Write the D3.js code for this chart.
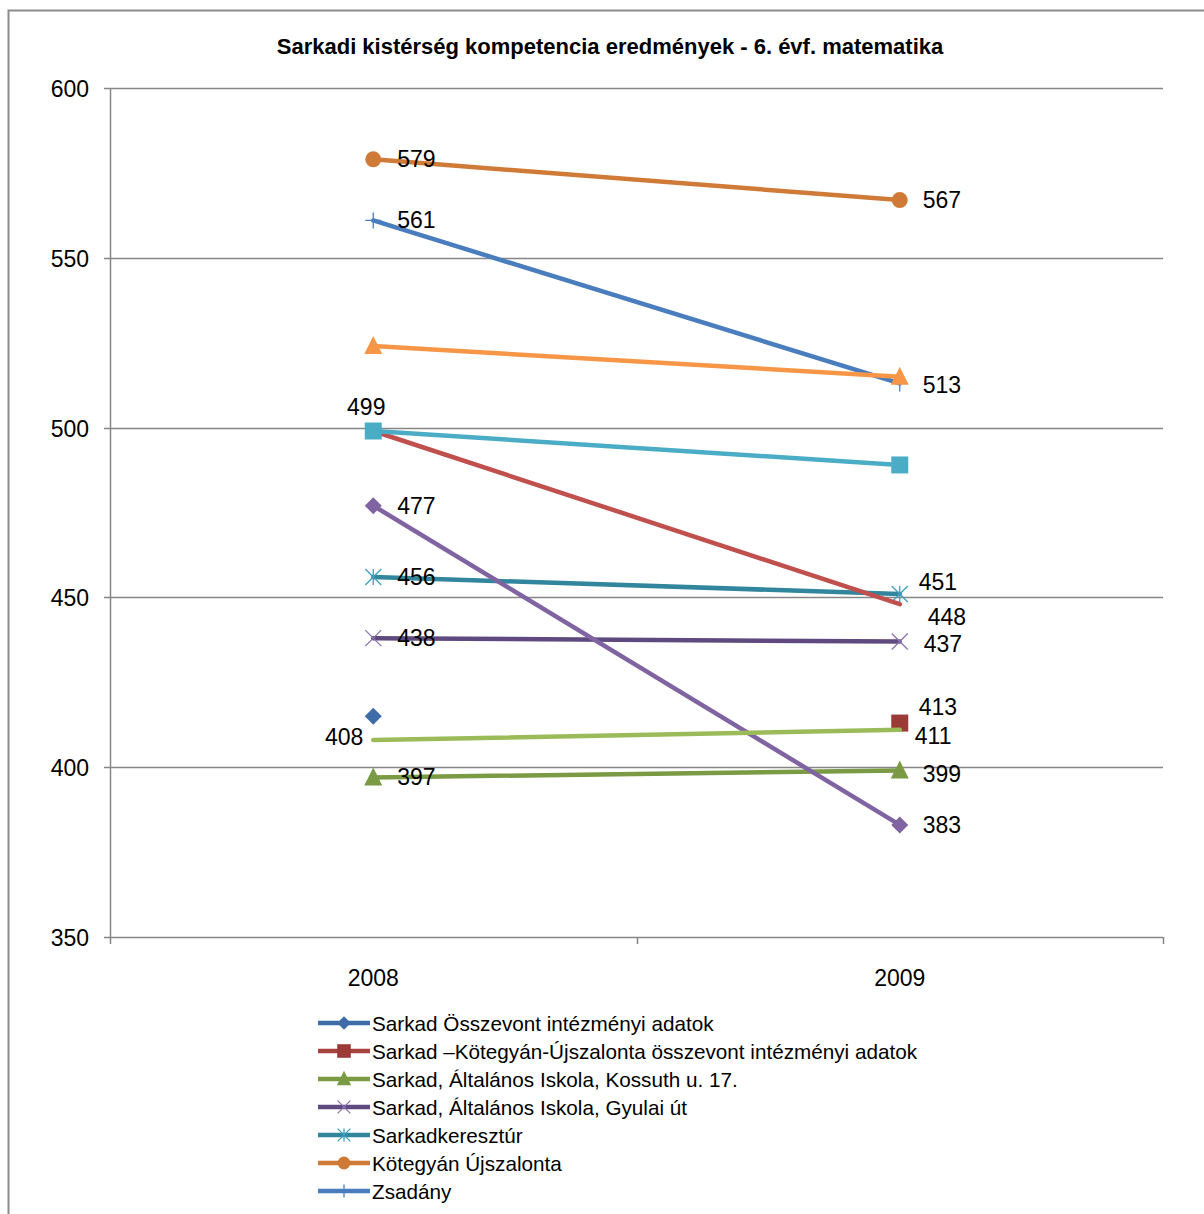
<!DOCTYPE html>
<html>
<head>
<meta charset="utf-8">
<script src="https://cdn.jsdelivr.net/npm/d3@7"></script>
<style>
  body { margin: 0; background: #fff; }
  svg { display: block; font-family: "Liberation Sans", Arial, sans-serif; }
  .tick-label { font-size: 23px; fill: #000; }
  .data-label { font-size: 23px; fill: #000; }
  .legend-text { font-size: 20.7px; fill: #000; }
</style>
</head>
<body>
<svg id="chart" width="1204" height="1214"></svg>
<script>
/* ── data ─────────────────────────────────────────────────────────────── */

const TITLE = "Sarkadi kistérség kompetencia eredmények - 6. évf. matematika";
const years = ["2008", "2009"];
const yTicks = [350, 400, 450, 500, 550, 600];

// legend shows only the first seven series (the rest is cut off)
const seriesNames = [
  "Sarkad Összevont intézményi adatok",
  "Sarkad –Kötegyán-Újszalonta összevont intézményi adatok",
  "Sarkad, Általános Iskola, Kossuth u. 17.",
  "Sarkad, Általános Iskola, Gyulai út",
  "Sarkadkeresztúr",
  "Kötegyán Újszalonta",
  "Zsadány",
];

const valuesOsszevont = [415, null];
const valuesSkuOsszevont = [null, 413];
const valuesKossuth = [397, 399];
const valuesGyulai = [438, 437];
const valuesKeresztur = [456, 451];
const valuesKotegyan = [579, 567];
const valuesZsadany = [561, 513];
const valuesRed = [499, 448];
const valuesPurple = [477, 383];
const valuesAqua = [499, 489];
const valuesOrange = [524, 515];
const valuesLightGreen = [408, 411];

/* ── series styling ───────────────────────────────────────────────────── */

// labels: [yearIndex, dx, dy, anchor]
const series = [
  { values: valuesOsszevont, color: "#3F6CA6", mcolor: "#3F6CA6", marker: "diamond", labels: [] },
  { values: valuesSkuOsszevont, color: "#A8423F", mcolor: "#9B3B38", marker: "square",
    labels: [[1, 19, -16, "start"]] },
  { values: valuesKossuth, color: "#7A9A43", mcolor: "#7A9A43", marker: "triangle",
    labels: [[0, 24, 0, "start"], [1, 23, 3, "start"]] },
  { values: valuesGyulai, color: "#5F4A80", mcolor: "#8A72B0", marker: "x",
    labels: [[0, 24, 0, "start"], [1, 24, 2, "start"]] },
  { values: valuesKeresztur, color: "#31869E", mcolor: "#3AA0BC", marker: "star",
    labels: [[0, 24, 0, "start"], [1, 19, -12, "start"]] },
  { values: valuesKotegyan, color: "#D07A37", mcolor: "#D07A37", marker: "circle",
    labels: [[0, 24, 0, "start"], [1, 23, 0, "start"]] },
  { values: valuesZsadany, color: "#4A7DBD", mcolor: "#4A7DBD", marker: "plus",
    labels: [[0, 24, 0, "start"], [1, 23, 2, "start"]] },
  { values: valuesRed, color: "#C0504D", mcolor: null, marker: null,
    labels: [[1, 28, 13, "start"]] },
  { values: valuesPurple, color: "#8064A2", mcolor: "#8064A2", marker: "diamond",
    labels: [[0, 24, 0, "start"], [1, 23, 0, "start"]] },
  { values: valuesAqua, color: "#4BACC6", mcolor: "#4BACC6", marker: "square",
    labels: [[0, -7, -24, "middle"]] },
  { values: valuesOrange, color: "#F79646", mcolor: "#F79646", marker: "triangle", labels: [] },
  { values: valuesLightGreen, color: "#9BBB59", mcolor: null, marker: null,
    labels: [[0, -10, -3, "end"], [1, 15, 6, "start"]] },
];

/* ── layout ───────────────────────────────────────────────────────────── */

const svg = d3.select("#chart");
const plot = { left: 110, right: 1163, top: 88, bottom: 937 };

const x = d3.scalePoint().domain(years).range([plot.left, plot.right]).padding(0.5);
const y = d3.scaleLinear().domain([350, 600]).range([plot.bottom, plot.top]);

// outer chart border (left + top visible)
svg.append("path")
  .attr("d", "M8.5,1214 L8.5,10.5 L1204,10.5")
  .attr("fill", "none")
  .attr("stroke", "#8c8c8c")
  .attr("stroke-width", 2);

svg.append("text")
  .attr("x", 610)
  .attr("y", 54)
  .attr("text-anchor", "middle")
  .attr("font-weight", "bold")
  .attr("font-size", "22px")
  .text(TITLE);

// gridlines + y ticks
const gridG = svg.append("g");
yTicks.forEach((t) => {
  const yy = Math.round(y(t)) + 0.5;
  gridG.append("line")
    .attr("x1", plot.left - 6).attr("x2", plot.right)
    .attr("y1", yy).attr("y2", yy)
    .attr("stroke", "#868686").attr("stroke-width", 1.5);
  gridG.append("text")
    .attr("class", "tick-label")
    .attr("x", 89)
    .attr("y", yy)
    .attr("text-anchor", "end")
    .attr("dominant-baseline", "central")
    .text(t);
});

// y axis line
svg.append("line")
  .attr("x1", plot.left + 0.5).attr("x2", plot.left + 0.5)
  .attr("y1", plot.top).attr("y2", plot.bottom)
  .attr("stroke", "#868686").attr("stroke-width", 1.5);

// x axis tick marks at band boundaries
const step = x.step();
[0, 1, 2].forEach((i) => {
  const xx = Math.round(plot.left + i * step) + 0.5;
  svg.append("line")
    .attr("x1", xx).attr("x2", xx)
    .attr("y1", plot.bottom).attr("y2", plot.bottom + 7)
    .attr("stroke", "#868686").attr("stroke-width", 1.5);
});

years.forEach((yr) => {
  svg.append("text")
    .attr("class", "tick-label")
    .attr("x", x(yr))
    .attr("y", 978)
    .attr("text-anchor", "middle")
    .attr("dominant-baseline", "central")
    .text(yr);
});

/* ── markers ──────────────────────────────────────────────────────────── */

function drawMarker(g, kind, cx, cy, color, scale = 1) {
  const s = scale;
  if (kind === "diamond") {
    const r = 8.5 * s;
    g.append("path")
      .attr("d", `M${cx},${cy - r} L${cx + r},${cy} L${cx},${cy + r} L${cx - r},${cy}Z`)
      .attr("fill", color);
  } else if (kind === "square") {
    const w = 17 * s;
    g.append("rect").attr("x", cx - w / 2).attr("y", cy - w / 2)
      .attr("width", w).attr("height", w).attr("fill", color);
  } else if (kind === "triangle") {
    const w = 18 * s;
    g.append("path")
      .attr("d", `M${cx},${cy - w / 2 - 1} L${cx + w / 2},${cy + w / 2 - 1} L${cx - w / 2},${cy + w / 2 - 1}Z`)
      .attr("fill", color);
  } else if (kind === "circle") {
    g.append("circle").attr("cx", cx).attr("cy", cy).attr("r", 8 * s).attr("fill", color);
  } else {
    const r = 8 * s;
    let d = "";
    if (kind === "x" || kind === "star")
      d += `M${cx - r},${cy - r}L${cx + r},${cy + r}M${cx - r},${cy + r}L${cx + r},${cy - r}`;
    if (kind === "star" || kind === "plus") d += `M${cx},${cy - r}L${cx},${cy + r}`;
    if (kind === "plus") d += `M${cx - r},${cy}L${cx + r},${cy}`;
    g.append("path").attr("d", d).attr("fill", "none")
      .attr("stroke", color).attr("stroke-width", 1.3);
  }
}

/* ── series ───────────────────────────────────────────────────────────── */

const line = d3.line()
  .defined((d) => d.v != null)
  .x((d) => x(d.year))
  .y((d) => y(d.v));

const seriesG = svg.append("g");
series.forEach((s) => {
  const pts = years.map((yr, i) => ({ year: yr, v: s.values[i] }));
  const g = seriesG.append("g");
  g.append("path")
    .attr("d", line(pts))
    .attr("fill", "none")
    .attr("stroke", s.color)
    .attr("stroke-width", 4.5)
    .attr("stroke-linecap", "round");
  if (s.marker) {
    pts.filter((p) => p.v != null)
      .forEach((p) => drawMarker(g, s.marker, x(p.year), y(p.v), s.mcolor));
  }
});

// data labels on top
const labelG = svg.append("g");
series.forEach((s) => {
  s.labels.forEach(([i, dx, dy, anchor]) => {
    const v = s.values[i];
    labelG.append("text")
      .attr("class", "data-label")
      .attr("x", x(years[i]) + dx)
      .attr("y", y(v) + dy)
      .attr("text-anchor", anchor)
      .attr("dominant-baseline", "central")
      .text(v);
  });
});

/* ── legend ───────────────────────────────────────────────────────────── */

const legendG = svg.append("g");
seriesNames.forEach((name, i) => {
  const s = series[i];
  const cy = 1023 + i * 28;
  legendG.append("line")
    .attr("x1", 318).attr("x2", 370)
    .attr("y1", cy).attr("y2", cy)
    .attr("stroke", s.color).attr("stroke-width", 4.5);
  drawMarker(legendG, s.marker, 344, cy, s.mcolor, 0.8);
  legendG.append("text")
    .attr("class", "legend-text")
    .attr("x", 372)
    .attr("y", cy)
    .attr("dominant-baseline", "central")
    .text(name);
});
</script>
</body>
</html>
